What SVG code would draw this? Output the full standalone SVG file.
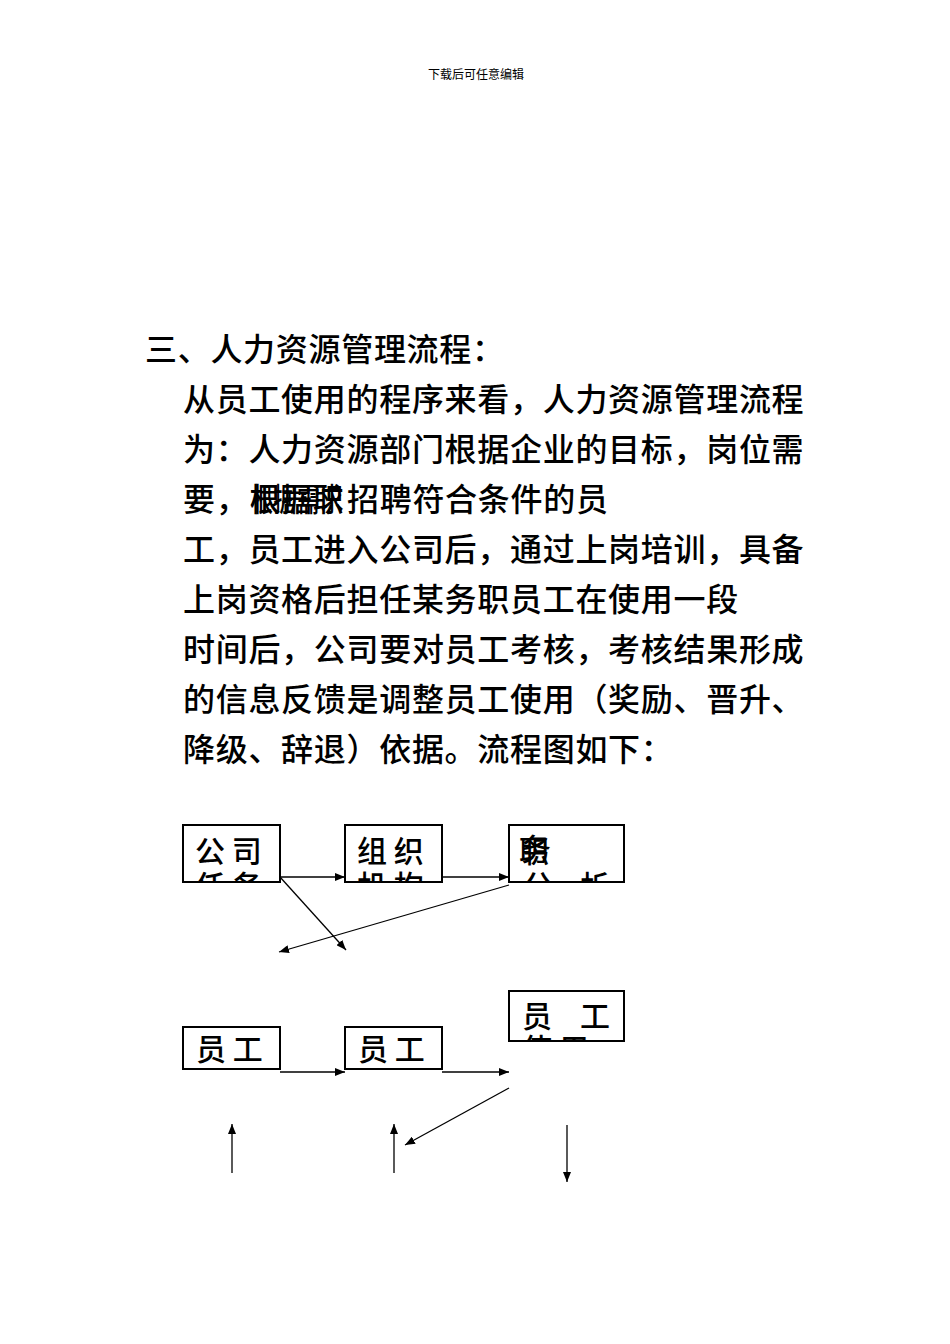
<svg xmlns="http://www.w3.org/2000/svg" width="950" height="1344" viewBox="0 0 950 1344">
<style>
text{font-family:"Noto Sans CJK SC","Liberation Sans",sans-serif;fill:#000}
.b{font-size:32px;letter-spacing:0.7px;font-weight:500}
.n{font-size:30px;font-weight:500}
.box{fill:#fff;stroke:#000;stroke-width:2}
.c{stroke:#000;stroke-width:1.3;fill:none;marker-end:url(#a)}
</style>
<defs>
<marker id="a" markerWidth="10" markerHeight="8" refX="10" refY="4" orient="auto" markerUnits="userSpaceOnUse"><path d="M0,0L10,4L0,8z"/></marker>
<clipPath id="c1"><rect x="184" y="826" width="95" height="55"/></clipPath>
<clipPath id="c2"><rect x="346" y="826" width="95" height="55"/></clipPath>
<clipPath id="c3"><rect x="510" y="826" width="113" height="55"/></clipPath>
<clipPath id="c6"><rect x="510" y="992" width="113" height="48"/></clipPath>
</defs>
<rect width="950" height="1344" fill="#fff"/>
<text x="476" y="79" font-size="12" text-anchor="middle">下载后可任意编辑</text>
<text class="b" x="145" y="361">三、人力资源管理流程：</text>
<text class="b" x="183" y="411">从员工使用的程序来看，人力资源管理流程</text>
<text class="b" x="183" y="461">为：人力资源部门根据企业的目标，岗位需</text>
<text class="b" x="183" y="511">要，</text>
<text class="b" x="250" y="511" font-weight="bold" textLength="94" lengthAdjust="spacingAndGlyphs">根据职</text>
<text class="b" x="250" y="511" font-weight="bold" textLength="94" lengthAdjust="spacingAndGlyphs">根据需求</text>
<text class="b" x="347" y="511">招聘符合条件的员</text>
<text class="b" x="183" y="561">工，员工进入公司后，通过上岗培训，具备</text>
<text class="b" x="183" y="611">上岗资格后担任某务职员工在使用一段</text>
<text class="b" x="183" y="661">时间后，公司要对员工考核，考核结果形成</text>
<text class="b" x="183" y="711">的信息反馈是调整员工使用（奖励、晋升、</text>
<text class="b" x="183" y="761">降级、辞退）依据。流程图如下：</text>
<g id="n1"><rect class="box" x="183" y="825" width="97" height="57"/><g clip-path="url(#c1)"><text class="n" x="195" y="862">公 司</text><text class="n" x="195" y="897">任 务</text></g></g>
<g id="n2"><rect class="box" x="345" y="825" width="97" height="57"/><g clip-path="url(#c2)"><text class="n" x="357" y="862">组 织</text><text class="n" x="357" y="897">机 构</text></g></g>
<g id="n3"><rect class="box" x="509" y="825" width="115" height="57"/><g clip-path="url(#c3)"><text class="n" x="519" y="862">职</text><text class="n" x="521" y="860">务</text><text class="n" x="523" y="897">分</text><text class="n" x="580" y="897">析</text></g></g>
<g id="n4"><rect class="box" x="183" y="1027" width="97" height="42"/><text class="n" x="196" y="1060">员 工</text></g>
<g id="n5"><rect class="box" x="345" y="1027" width="97" height="42"/><text class="n" x="358" y="1060">员 工</text></g>
<g id="n6"><rect class="box" x="509" y="991" width="115" height="50"/><g clip-path="url(#c6)"><text class="n" x="522" y="1027">员</text><text class="n" x="580" y="1027">工</text><text class="n" x="522" y="1060">使 用</text></g></g>
<g id="connectors">
<line class="c" x1="280" y1="877" x2="345" y2="877"/>
<line class="c" x1="442" y1="877" x2="509" y2="877"/>
<line class="c" x1="280" y1="877" x2="346" y2="950"/>
<line class="c" x1="509" y1="885" x2="279" y2="952"/>
<line class="c" x1="280" y1="1072" x2="345" y2="1072"/>
<line class="c" x1="442" y1="1072" x2="509" y2="1072"/>
<line class="c" x1="509" y1="1088" x2="405" y2="1145"/>
<line class="c" x1="232" y1="1173" x2="232" y2="1124"/>
<line class="c" x1="394" y1="1173" x2="394" y2="1124"/>
<line class="c" x1="567" y1="1125" x2="567" y2="1182"/>
</g>
</svg>
